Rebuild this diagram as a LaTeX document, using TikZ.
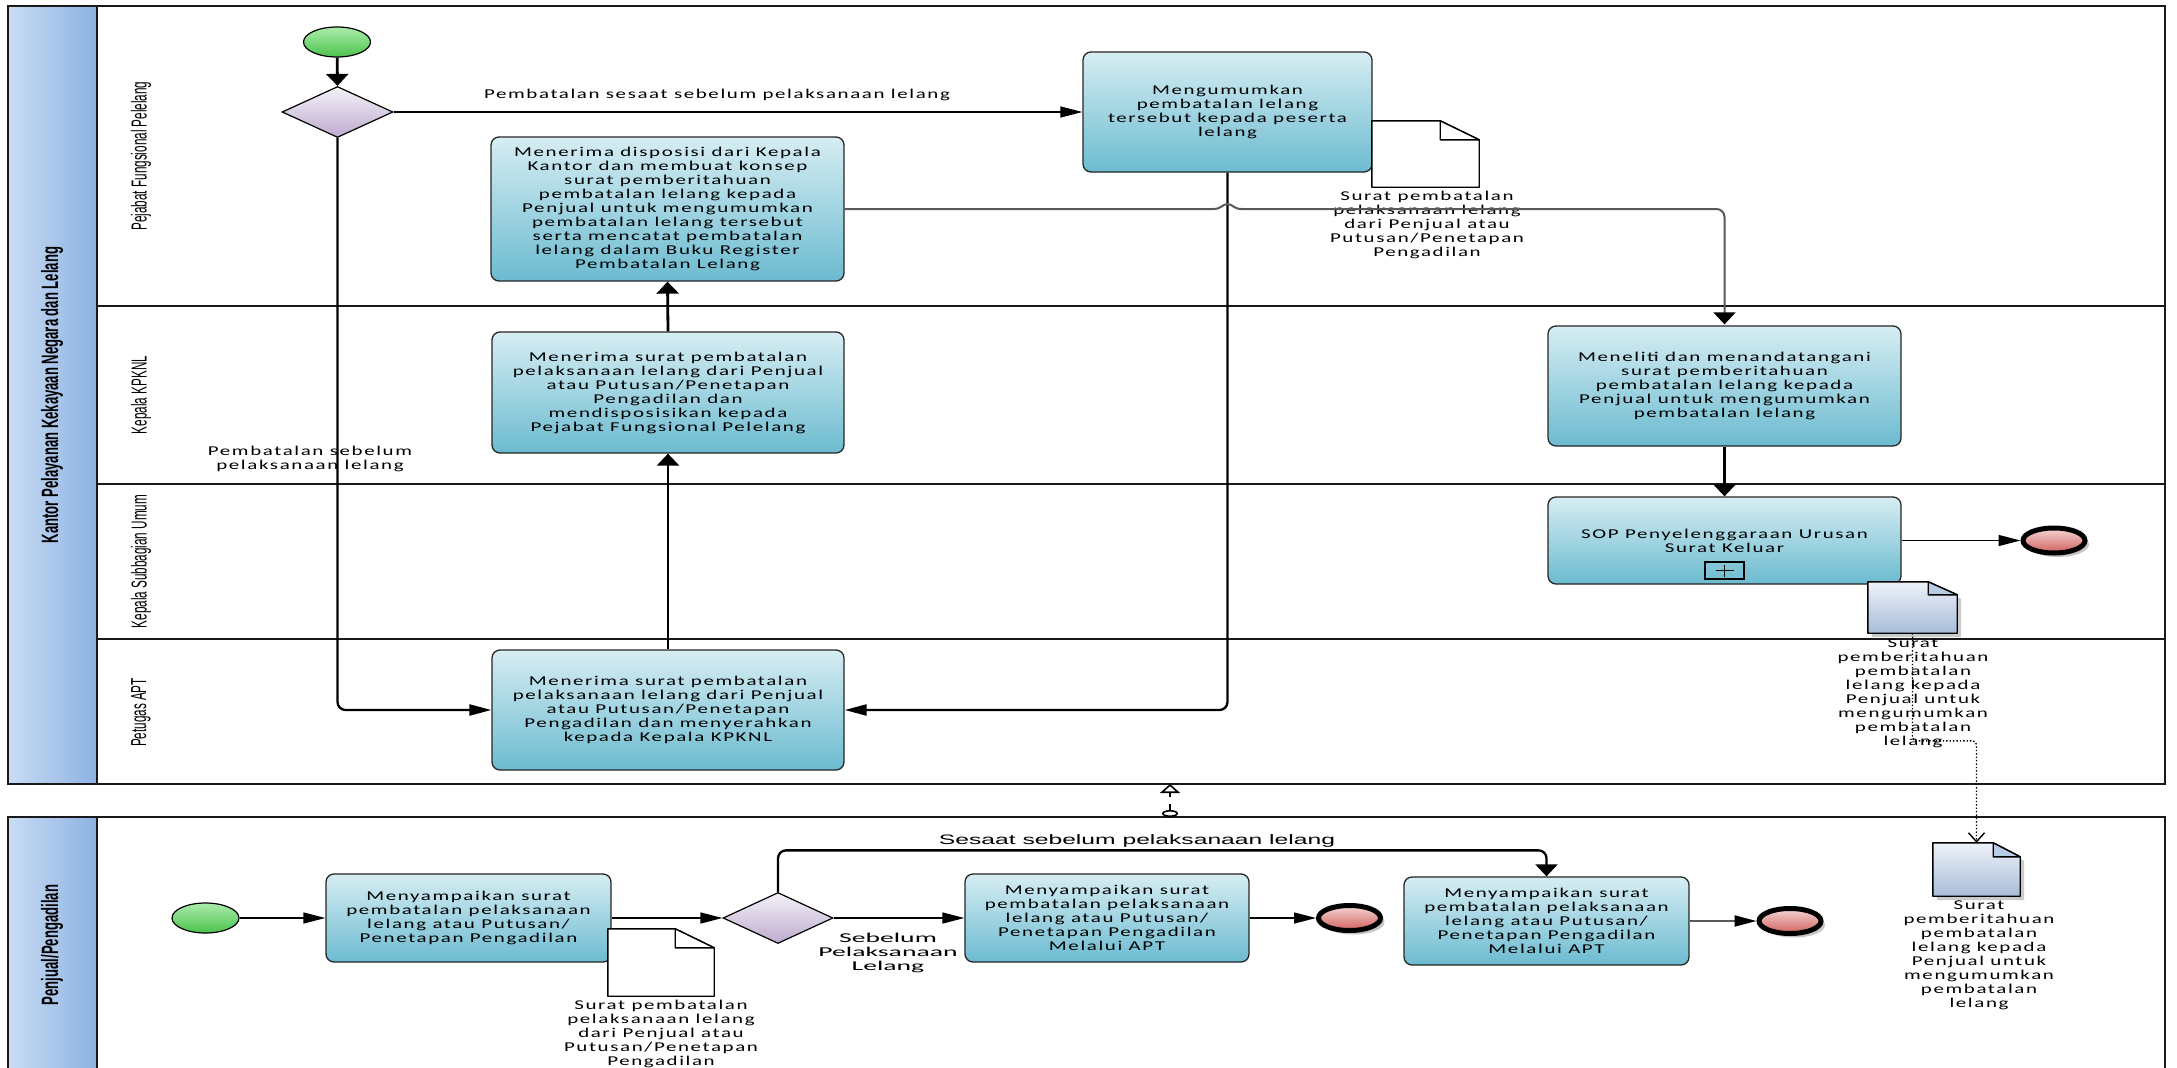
\documentclass[tikz,border=0pt]{standalone}
\usepackage{fontspec}
\setmainfont{Carlito}
\newfontfamily\bxf{Carlito}[FakeStretch=1.55,LetterSpace=12]
\newfontfamily\clf{Carlito}[FakeStretch=2.05]
\newfontfamily\arf{Liberation Sans}[FakeStretch=1.8]
\newfontfamily\lnf{Liberation Sans}
\usetikzlibrary{shapes.geometric,arrows.meta,shadows}
\definecolor{taskT}{RGB}{214,237,243}
\definecolor{taskB}{RGB}{108,187,208}
\definecolor{hdrL}{RGB}{201,220,243}
\definecolor{hdrR}{RGB}{141,178,226}
\definecolor{gwT}{RGB}{244,242,248}
\definecolor{gwB}{RGB}{190,170,206}
\definecolor{stT}{RGB}{172,236,172}
\definecolor{stB}{RGB}{76,195,76}
\definecolor{enT}{RGB}{245,214,214}
\definecolor{enB}{RGB}{208,96,91}
\definecolor{dcT}{RGB}{238,242,248}
\definecolor{dcB}{RGB}{168,188,217}
\definecolor{dcF}{RGB}{184,204,228}
\newcommand\docfig[5]{%
  \path[#2] (#1.north west) -- ([xshift=-#3pt]#1.north east) -- ([yshift=-#4pt]#1.north east) -- (#1.south east) -- (#1.south west) -- cycle;
  \draw[line width=1.4pt, fill=#5, line join=round] ([xshift=-#3pt]#1.north east) -- ([xshift=-#3pt,yshift=-#4pt]#1.north east) -- ([yshift=-#4pt]#1.north east) -- cycle;}
\begin{document}
\begin{tikzpicture}[x=1pt,y=-1pt,
  htip/.tip={Triangle[length=22pt,width=11pt,color=black]},
  vtip/.tip={Triangle[length=12pt,width=22pt,color=black]},
  task/.style={rectangle, draw=black!85, line width=1.3pt, rounded corners=8pt, top color=taskT, bottom color=taskB, align=center, inner sep=0pt, font=\bxf\fontsize{13.5}{14}\selectfont},
  gateway/.style={diamond, shape aspect=2.2, draw=black, line width=1.2pt, top color=gwT, bottom color=gwB, inner sep=0pt},
  startev/.style={ellipse, draw=black, line width=1.2pt, top color=stT, bottom color=stB, minimum width=67pt, minimum height=30pt, inner sep=0pt},
  endev/.style={ellipse, draw=black, line width=5pt, top color=enT, bottom color=enB, minimum width=62pt, minimum height=25pt, inner sep=0pt, drop shadow={shadow xshift=4pt, shadow yshift=-4pt, fill=black!45}},
  docnode/.style={rectangle, inner sep=0pt, draw=none},
  lbl/.style={align=center, inner sep=0pt, font=\bxf\fontsize{13.5}{14}\selectfont},
  lanelbl/.style={rotate=90, inner sep=0pt, font=\lnf\fontsize{11.7}{12}\selectfont},
  pooltitle/.style={rotate=90, inner sep=0pt, font=\lnf\bfseries\fontsize{13.1}{14}\selectfont},
  poolline/.style={draw=black!90, line width=2.2pt},
  laneline/.style={draw=black!90, line width=1.8pt},
  hflow/.style={draw=black, line width=1.4pt},
  vflow/.style={draw=black, line width=2.8pt},
  mflow/.style={draw=black, line width=2.3pt, rounded corners=8pt},
  grayflow/.style={draw=black!65, line width=2pt}
]
\useasboundingbox[fill=white] (0,0) rectangle (2177,1068);
% ---------- pools ----------
\shade[left color=hdrL, right color=hdrR] (8,6) rectangle (97,784);
\draw[poolline] (8,6) rectangle (2165,784);
\draw[poolline] (97,6) -- (97,784);
\foreach \yy in {306,484,639} \draw[laneline] (97,\yy) -- (2165,\yy);
\shade[left color=hdrL, right color=hdrR] (8,817) rectangle (97,1070);
\draw[poolline] (8,1070) -- (8,817) -- (2165,817) -- (2165,1070);
\draw[poolline] (97,817) -- (97,1070);
\node[pooltitle] (pt1) at (52,395) {\scalebox{1}[1.8]{Kantor Pelayanan Kekayaan Negara dan Lelang}};
\node[pooltitle] (pt2) at (52,945) {\scalebox{1}[1.8]{Penjual/Pengadilan}};
\node[lanelbl] (ln1) at (141,156) {\scalebox{1}[1.85]{Pejabat Fungsional Pelelang}};
\node[lanelbl] (ln2) at (141,395) {\scalebox{1}[1.85]{Kepala KPKNL}};
\node[lanelbl] (ln3) at (141,561.5) {\scalebox{1}[1.85]{Kepala Subbagian Umum}};
\node[lanelbl] (ln4) at (141,712.5) {\scalebox{1}[1.85]{Petugas APT}};
% ---------- top pool nodes ----------
\node[startev] (start1) at (337,42) {};
\node[gateway, minimum width=111pt, minimum height=51pt] (gw1) at (337.5,112) {};
\node[task, minimum width=289pt, minimum height=120pt] (taskA) at (1227.5,112) {Mengumumkan\\pembatalan lelang\\tersebut kepada peserta\\lelang};
\node[task, minimum width=353pt, minimum height=144pt] (taskB) at (667.5,209) {Menerima disposisi dari Kepala\\Kantor dan membuat konsep\\surat pemberitahuan\\pembatalan lelang kepada\\Penjual untuk mengumumkan\\pembatalan lelang tersebut\\serta mencatat pembatalan\\lelang dalam Buku Register\\Pembatalan Lelang};
\node[task, minimum width=352pt, minimum height=121pt] (taskD) at (668,392.5) {Menerima surat pembatalan\\pelaksanaan lelang dari Penjual\\atau Putusan/Penetapan\\Pengadilan dan\\mendisposisikan kepada\\Pejabat Fungsional Pelelang};
\node[task, minimum width=353pt, minimum height=120pt] (taskC) at (1724.5,386) {Meneliti dan menandatangani\\surat pemberitahuan\\pembatalan lelang kepada\\Penjual untuk mengumumkan\\pembatalan lelang};
\node[task, minimum width=353pt, minimum height=87pt] (taskS) at (1724.5,540.5) {SOP Penyelenggaraan Urusan\\Surat Keluar};
\node[rectangle, draw=black, line width=1.3pt, minimum width=39pt, minimum height=17pt, inner sep=0pt,
  path picture={\draw[line width=1.3pt] ([xshift=-9pt]path picture bounding box.center) -- ([xshift=9pt]path picture bounding box.center);
                \draw[line width=1.3pt] ([yshift=-6pt]path picture bounding box.center) -- ([yshift=6pt]path picture bounding box.center);}] (sopmark) at (1724.5,570.5) {};
\node[endev] (end1) at (2054,540.5) {};
\node[task, minimum width=352pt, minimum height=120pt] (taskE) at (668,710) {Menerima surat pembatalan\\pelaksanaan lelang dari Penjual\\atau Putusan/Penetapan\\Pengadilan dan menyerahkan\\kepada Kepala KPKNL};
% documents (top)
\node[docnode, minimum width=107pt, minimum height=66pt] (doc1) at (1425.5,154) {};
\docfig{doc1}{draw=black, line width=1.4pt, fill=white, line join=round}{39}{19}{white}
\node[lbl] (doc1l) at (1427,225) {Surat pembatalan\\pelaksanaan lelang\\dari Penjual atau\\Putusan/Penetapan\\Pengadilan};
\node[docnode, minimum width=89pt, minimum height=51pt] (doc2) at (1912.5,607.5) {};
\docfig{doc2}{draw=black, line width=1.4pt, top color=dcT, bottom color=dcB, line join=round, drop shadow={shadow xshift=4pt, shadow yshift=-4pt, fill=black!40}}{29}{13}{dcF}
\node[lbl] (doc2l) at (1913,693) {Surat\\pemberitahuan\\pembatalan\\lelang kepada\\Penjual untuk\\mengumumkan\\pembatalan\\lelang};
% labels (top)
\node[lbl] (l1) at (717,95) {Pembatalan sesaat sebelum pelaksanaan lelang};
\node[lbl] (l2) at (310,459) {Pembatalan sebelum\\pelaksanaan lelang};
% ---------- top pool flows ----------
\draw[vflow, -{vtip}] (start1) -- (gw1.north);
\draw[hflow, -{htip}] (gw1.east) -- (taskA.west);
\draw[mflow, -{htip}] (gw1.south) |- (taskE.west);
\draw[vflow, -{vtip}] (taskE.north) -- (taskD.south);
\draw[vflow, -{vtip}] (taskD.north) -- (taskB.south);
\draw[mflow, -{htip}] (taskA.south) |- (taskE.east);
\coordinate (hop) at (taskA.south |- taskB.east);
\draw[grayflow, -{vtip}] (taskB.east) -- ([xshift=-14pt]hop)
  .. controls ([xshift=-6pt]hop) and ([xshift=-5pt,yshift=5pt]hop) .. ([yshift=5pt]hop)
  .. controls ([xshift=5pt,yshift=5pt]hop) and ([xshift=6pt]hop) .. ([xshift=14pt]hop)
  [rounded corners=8pt] -| ([yshift=1pt]taskC.north);
\draw[vflow, -{vtip}] (taskC.south) -- (taskS.north);
\draw[hflow, -{htip}] (taskS.east) -- (end1.west);
% ---------- bottom pool ----------
\node[startev] (start2) at (205.5,918) {};
\node[task, minimum width=285pt, minimum height=88pt] (taskF) at (468.5,918) {Menyampaikan surat\\pembatalan pelaksanaan\\lelang atau Putusan/\\Penetapan Pengadilan};
\node[gateway, minimum width=110pt, minimum height=51pt] (gw2) at (778,918) {};
\node[task, minimum width=284pt, minimum height=88pt] (taskG) at (1107,918) {Menyampaikan surat\\pembatalan pelaksanaan\\lelang atau Putusan/\\Penetapan Pengadilan\\Melalui APT};
\node[endev] (end2) at (1349.5,918) {};
\node[task, minimum width=285pt, minimum height=88pt] (taskH) at (1546.5,921) {Menyampaikan surat\\pembatalan pelaksanaan\\lelang atau Putusan/\\Penetapan Pengadilan\\Melalui APT};
\node[endev] (end3) at (1790,921) {};
\node[docnode, minimum width=106pt, minimum height=67pt] (doc4) at (661,962.5) {};
\docfig{doc4}{draw=black, line width=1.4pt, fill=white, line join=round}{39}{19}{white}
\node[lbl] (doc4l) at (661,1034) {Surat pembatalan\\pelaksanaan lelang\\dari Penjual atau\\Putusan/Penetapan\\Pengadilan};
\node[docnode, minimum width=87pt, minimum height=53pt] (doc3) at (1976.5,869.5) {};
\docfig{doc3}{draw=black, line width=1.4pt, top color=dcT, bottom color=dcB, line join=round, drop shadow={shadow xshift=4pt, shadow yshift=-4pt, fill=black!40}}{27}{14}{dcF}
\node[lbl] (doc3l) at (1979,955) {Surat\\pemberitahuan\\pembatalan\\lelang kepada\\Penjual untuk\\mengumumkan\\pembatalan\\lelang};
\node[align=center, inner sep=0pt, font=\clf\fontsize{13.5}{14}\selectfont] (l3) at (888,953) {Sebelum\\Pelaksanaan\\Lelang};
\node[inner sep=0pt, font=\arf\fontsize{13.7}{14}\selectfont] (l4) at (1137,841) {Sesaat sebelum pelaksanaan lelang};
% bottom flows
\draw[hflow, -{htip}] (start2.east) -- (taskF.west);
\draw[hflow, -{htip}] (taskF.east) -- (gw2.west);
\draw[hflow, -{htip}] (gw2.east) -- (taskG.west);
\draw[hflow, -{htip}] (taskG.east) -- (end2.west);
\draw[mflow, -{vtip}] (gw2.north) |- ([yshift=26pt]taskH.north) -- (taskH.north);
\draw[grayflow, -{htip}] (taskH.east) -- (end3.west);
% message flow and association
\coordinate (mfs) at (1170,817);
\coordinate (mft) at (1170,784);
\draw[line width=1.6pt, dash pattern=on 7pt off 7pt, {Circle[open, length=7pt, width=16pt, fill=white]}-{Triangle[open, length=9pt, width=20pt, fill=white]}] (mfs) -- (mft);
\draw[line width=1.4pt, dotted, rounded corners=4pt, -{Straight Barb[length=9pt, width=16pt]}] (doc2.south) |- ([yshift=102pt]doc3.north) -- (doc3.north);
\end{tikzpicture}
\end{document}
